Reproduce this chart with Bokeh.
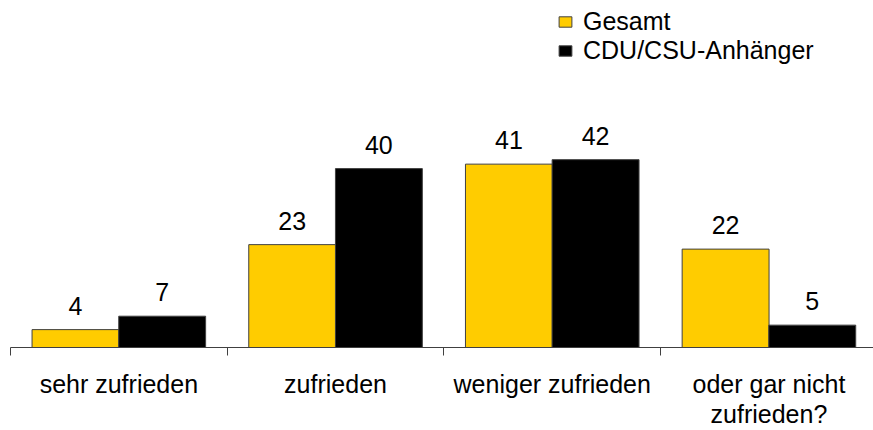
from bokeh.plotting import figure
from bokeh.models import Range1d, FixedTicker, Legend, LegendItem, ColumnDataSource, LabelSet
from bokeh.core.properties import value
from bokeh.embed import file_html
from bokeh.resources import INLINE

categories = ["sehr zufrieden", "zufrieden", "weniger zufrieden", "oder gar nicht\nzufrieden?"]
gesamt = [4, 23, 41, 22]
cdu_csu = [7, 40, 42, 5]
series_names = ["Gesamt", "CDU/CSU-Anhänger"]

YELLOW = "#FFCC00"
BLACK = "#000000"
FONT = "Liberation Sans"

idx = list(range(len(categories)))
src = ColumnDataSource(dict(
    xg=[i + 0.3 for i in idx], xc=[i + 0.7 for i in idx],
    g=gesamt, c=cdu_csu,
    gl=[str(v) for v in gesamt], cl=[str(v) for v in cdu_csu],
))

p = figure(frame_width=863, frame_height=339, output_backend="svg", toolbar_location=None,
           x_range=Range1d(0, 3.9825), y_range=Range1d(0, 75.8),
           min_border_left=10, min_border_right=0, min_border_top=8, min_border_bottom=0)
p.outline_line_color = None
p.grid.visible = False
p.yaxis.visible = False

rg = p.vbar(x="xg", top="g", width=0.401, bottom=0, source=src, fill_color=YELLOW,
            line_color="#404040", line_width=1)
rc = p.vbar(x="xc", top="c", width=0.401, bottom=0, source=src, fill_color=BLACK,
            line_color="#404040", line_width=1)

for xcol, ycol, tcol in [("xg", "g", "gl"), ("xc", "c", "cl")]:
    p.add_layout(LabelSet(x=xcol, y=ycol, text=tcol, source=src, y_offset=15,
                          text_align="center", text_baseline="alphabetic",
                          text_font=value(FONT), text_font_size=value("25px"),
                          text_color="black"))

ax = p.xaxis[0]
ax.ticker = FixedTicker(ticks=[i + 0.5 for i in idx], minor_ticks=list(range(len(categories) + 1)))
ax.major_label_overrides = {i + 0.5: c for i, c in zip(idx, categories)}
ax.major_tick_out = 0
ax.major_tick_in = 0
ax.minor_tick_out = 8
ax.minor_tick_in = 0
ax.minor_tick_line_color = "#404040"
ax.axis_line_color = "#404040"
ax.major_label_standoff = 14
ax.major_label_text_font = FONT
ax.major_label_text_font_size = "25px"
ax.major_label_text_color = "black"
ax.major_label_text_line_height = 1.1

legend = Legend(items=[LegendItem(label=series_names[0], renderers=[rg]),
                       LegendItem(label=series_names[1], renderers=[rc])],
                location=(547, 339 - 57), orientation="vertical",
                glyph_width=16, glyph_height=13, label_height=26, spacing=0,
                label_standoff=10, padding=0, margin=0,
                border_line_alpha=0, background_fill_alpha=0,
                label_text_font=FONT, label_text_font_size="25px", label_text_color="black")
p.add_layout(legend)

open("out.html", "w").write(file_html(p, INLINE))
